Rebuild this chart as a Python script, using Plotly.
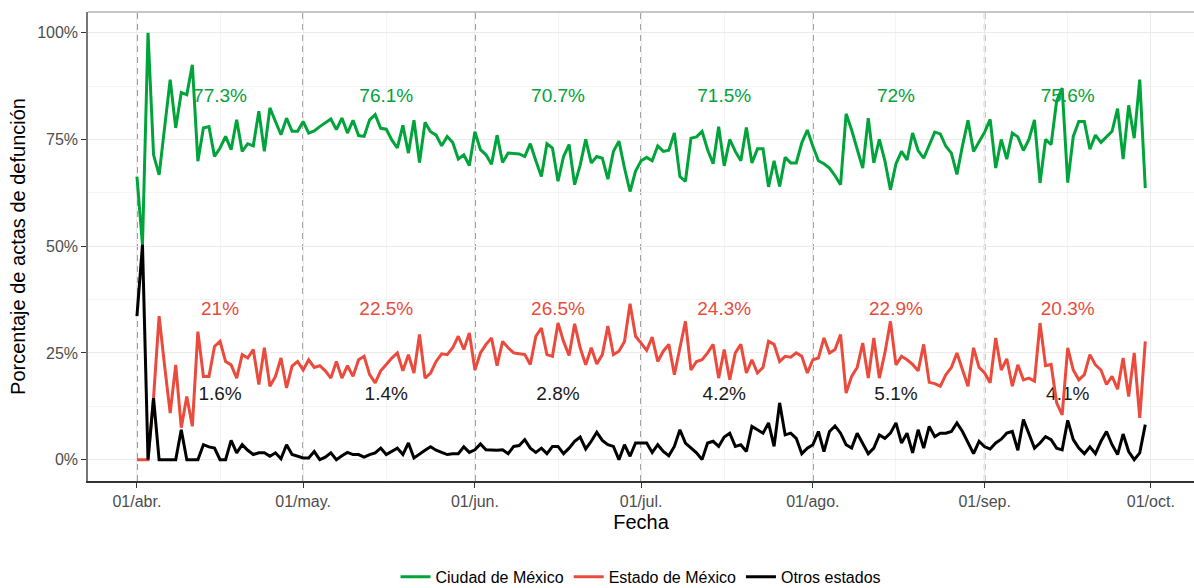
import pandas as pd
import plotly.graph_objects as go

# Daily share of death certificates by state of residence (Apr 1 - Sep 30, 2020)
dates = pd.date_range("2020-04-01", "2020-09-30", freq="D")

cdmx = [
    66.3, 50.3, 100, 71.4, 66.7, 78, 89, 77.7, 86, 85.5,
    92.5, 69.9, 77.7, 78, 71, 73, 75.7, 72.6, 79.6, 72.2,
    74, 73.5, 81.6, 72.2, 82.4, 79.2, 76.1, 80, 76.9, 76.9,
    79.2, 76.5, 77, 78, 79, 79.8, 77.3, 80, 76.5, 79.5,
    75.9, 75.7, 79.6, 80.8, 77.6, 77.4, 74.9, 73, 78.3, 71.8,
    79.5, 69.6, 79, 76.8, 76, 73.5, 75.7, 74.3, 70.4, 71.4,
    68.9, 76.8, 72.6, 71.4, 69.2, 76, 69.6, 71.8, 71.7, 71.6,
    71, 74, 70, 66.3, 74, 73, 65.2, 71, 73.8, 64.4,
    69, 75, 69.5, 71, 70.6, 65.7, 72.2, 74.6, 68.3, 62.8,
    67.6, 70, 70.8, 70, 73.5, 72.2, 72.5, 76.5, 66.3, 65.2,
    75.3, 75.6, 76.9, 72.6, 69.3, 78, 68.8, 75, 72.2, 70,
    77.8, 69.5, 72.8, 72.8, 63.9, 70, 64, 70.8, 69.5, 69.5,
    74.2, 77.2, 73.4, 70, 69.3, 68.3, 66.5, 64.4, 81, 77.2,
    72.7, 68.3, 80, 69.5, 75, 70, 63.2, 69.3, 72.2, 70.2,
    76.5, 72.4, 70.6, 73.8, 76.7, 76.3, 73.4, 71.8, 66.8, 73.5,
    79.5, 72.2, 74.6, 76.7, 79.7, 68.3, 75, 70.4, 76.5, 75.6,
    72.4, 75, 79.6, 64.8, 75, 73.8, 84, 87, 64.9, 75.7,
    79.2, 79.2, 72.7, 76, 74.3, 75.6, 76.9, 82.2, 70.4, 83,
    75.3, 89, 63.6,
]

edomex = [
    0, 0, 0, 14.5, 33.6, 21.9, 10.9, 22.2, 7.5, 14.8,
    7.8, 30, 19.5, 19.5, 26.5, 27.7, 23, 22.2, 19.1, 24.6,
    23.8, 25.8, 17.6, 26.2, 17.2, 19.5, 23.8, 16.8, 21.9, 23,
    21, 23.4, 21.6, 22, 20.8, 19.1, 23, 19.1, 22, 19.5,
    23.4, 24.2, 19.9, 18, 20.8, 22.3, 23.8, 25, 20.8, 24.6,
    20.3, 29.3, 19.1, 20.3, 23, 24.8, 24.6, 26.2, 28.9, 25.8,
    29.7, 21, 25, 27, 28.5, 22, 27.7, 26.2, 25, 24.8,
    24.6, 22.3, 28.9, 30.8, 24.6, 24.2, 32, 27.7, 24.4, 31.8,
    26.2, 22.2, 26.2, 22.4, 24.6, 31.3, 24.6, 25.4, 27.7, 36.5,
    28.9, 27.3, 25.6, 28.7, 23, 25.4, 27, 19.9, 25.8, 32.4,
    21, 23, 23.4, 25, 27, 19.1, 25.8, 18.7, 25, 27,
    20.3, 23.4, 20.3, 21.6, 27.7, 27, 23, 24.2, 24, 25,
    24.2, 20.3, 23.4, 23.8, 28.5, 25, 25.8, 29.3, 15.6, 19.5,
    21.6, 27.3, 19.1, 28.5, 19.1, 25, 32.4, 22.2, 24.2, 23.4,
    22.3, 20.8, 27, 18.1, 17.8, 17.2, 19.9, 21.6, 25, 21,
    17.2, 26.2, 21.6, 20.3, 18, 28.5, 21, 23.6, 17.2, 22.2,
    18.7, 19.1, 18.4, 32, 22, 22.3, 13.3, 10.5, 26.2, 21,
    18.7, 19.9, 24.6, 22.2, 21, 17.6, 19.5, 16.5, 23.8, 14.8,
    25, 9.8, 27.7,
]

otros = [
    33.6, 50.3, 0, 14.4, 0, 0, 0, 0, 7, 0,
    0, 0, 3.5, 3, 2.7, 0, 0, 4.5, 1.6, 3.5,
    2.2, 1.2, 1.6, 1.6, 0.8, 1.6, 0.2, 3.5, 1.2, 0.8,
    0.4, 0.4, 1.9, 0, 0.6, 1.6, 0, 0.9, 1.7, 1.2,
    1.2, 0.6, 1.2, 1.6, 2.7, 1.2, 1.9, 2.7, 1.2, 3.9,
    0.4, 1.4, 2.2, 3, 2.2, 1.7, 1.2, 1.4, 1.4, 3,
    1.7, 2.3, 3.7, 2.3, 2.2, 2.2, 2.3, 1.4, 3.1, 3.3,
    4.7, 2.7, 1.7, 2.7, 1.4, 3.1, 3.1, 1.4, 2.7, 4.3,
    5.3, 2.5, 4.3, 6.4, 4.5, 3.5, 3.1, 0, 3.5, 0.8,
    3.9, 3.9, 3.9, 1.7, 3.5, 1.9, 0.9, 3.1, 7, 3.9,
    2.7, 1.6, 0, 3.9, 4.3, 3.1, 5.3, 6.2, 3.1, 3.5,
    1.9, 7.8, 7, 6.2, 8.6, 3.1, 13.3, 5.8, 6.2, 5,
    1.4, 2.7, 3.5, 6.6, 1.9, 6.6, 7.9, 6.2, 3.5, 2.7,
    6.2, 3.9, 1.4, 2.7, 5.8, 5, 6.2, 8.6, 3.9, 6.2,
    1.6, 7, 2.7, 7.8, 5.4, 6.2, 6.2, 6.6, 8.6, 6.6,
    3.9, 1.4, 4.3, 3, 2.5, 3.9, 4.8, 6.2, 6.6, 2.2,
    9.4, 5.8, 2.7, 3.9, 5.4, 4.7, 2.7, 2.3, 9.2, 4.7,
    2.7, 1.4, 3, 1.4, 4.3, 6.6, 3.5, 1.2, 6, 1.9,
    0, 1.6, 8.2,
]

# Monthly averages shown as labels
label_dates = ["2020-04-16", "2020-05-16", "2020-06-16",
               "2020-07-16", "2020-08-16", "2020-09-16"]
cdmx_labels = ["77.3%", "76.1%", "70.7%", "71.5%", "72%", "75.6%"]
edomex_labels = ["21%", "22.5%", "26.5%", "24.3%", "22.9%", "20.3%"]
otros_labels = ["1.6%", "1.4%", "2.8%", "4.2%", "5.1%", "4.1%"]

month_starts = ["2020-04-01", "2020-05-01", "2020-06-01",
                "2020-07-01", "2020-08-01", "2020-09-01", "2020-10-01"]
month_labels = ["01/abr.", "01/may.", "01/jun.", "01/jul.",
                "01/ago.", "01/sep.", "01/oct."]
mid_months = ["2020-04-16", "2020-05-16", "2020-06-16",
              "2020-07-16", "2020-08-16", "2020-09-16"]

GREEN = "#00A43A"
RED = "#EA4B3C"
BLACK = "#000000"
FONT = "Liberation Sans, Arial, sans-serif"

fig = go.Figure()

# Labels first so the lines are drawn on top of them
for labels, y_pos, color in [(cdmx_labels, 85, GREEN),
                             (edomex_labels, 35, RED),
                             (otros_labels, 15, "#1a1a1a")]:
    fig.add_trace(go.Scatter(
        x=label_dates, y=[y_pos] * len(labels), text=labels,
        mode="text", textfont={"size": 19, "color": color, "family": FONT},
        showlegend=False, hoverinfo="skip"
    ))

for name, values, color in [("Ciudad de México", cdmx, GREEN),
                            ("Estado de México", edomex, RED),
                            ("Otros estados", otros, BLACK)]:
    fig.add_trace(go.Scatter(
        x=dates, y=values, mode="lines", name=name,
        line={"color": color, "width": 3}
    ))

shapes = []
for d in month_starts[:-1]:
    shapes.append({
        "type": "line", "xref": "x", "yref": "paper",
        "x0": d, "x1": d, "y0": 0, "y1": 1,
        "line": {"color": "#6e6e6e", "width": 1.5, "dash": "6px,5px"},
        "layer": "between"
    })
# light top border of the panel
shapes.append({
    "type": "line", "xref": "paper", "yref": "paper",
    "x0": 0, "x1": 1, "y0": 1, "y1": 1,
    "line": {"color": "#b3b3b3", "width": 1.5}
})

fig.update_layout(
    width=1194,
    height=588,
    margin={"l": 88, "r": 0, "t": 12, "b": 107},
    plot_bgcolor="white",
    paper_bgcolor="white",
    font={"family": FONT, "color": "#000000"},
    shapes=shapes,
    xaxis={
        "type": "date",
        "automargin": False,
        "range": ["2020-03-23 04:00", "2020-10-08 19:00"],
        "tickmode": "array",
        "tickvals": month_starts,
        "ticktext": month_labels,
        "tickfont": {"size": 16, "color": "#4d4d4d"},
        "ticks": "outside", "ticklen": 5, "tickcolor": "#333333",
        "showline": True, "linecolor": "#333333", "linewidth": 1.5,
        "showgrid": True, "gridcolor": "#ebebeb", "gridwidth": 1,
        "minor": {"tickvals": mid_months, "showgrid": True,
                  "gridcolor": "#f4f4f4", "gridwidth": 1},
        "zeroline": False,
        "title": {"text": "Fecha", "font": {"size": 20}, "standoff": 6},
    },
    yaxis={
        "automargin": False,
        "range": [-5, 104.85],
        "tickmode": "array",
        "tickvals": [0, 25, 50, 75, 100],
        "ticktext": ["0%", "25%", "50%", "75%", "100%"],
        "tickfont": {"size": 16, "color": "#4d4d4d"},
        "ticks": "outside", "ticklen": 5, "tickcolor": "#333333",
        "showline": True, "linecolor": "#777777", "linewidth": 1.5,
        "showgrid": True, "gridcolor": "#ebebeb", "gridwidth": 1,
        "minor": {"tickvals": [12.5, 37.5, 62.5, 87.5], "showgrid": True,
                  "gridcolor": "#f4f4f4", "gridwidth": 1},
        "zeroline": False,
        "title": {"text": "Porcentaje de actas de defunción",
                  "font": {"size": 20}, "standoff": 6},
    },
    legend={
        "orientation": "h", "x": 0.5, "xanchor": "center",
        "yref": "container", "y": 0.019, "yanchor": "middle",
        "font": {"size": 16, "color": "#000000"},
        "itemwidth": 30,
        "traceorder": "normal",
    },
)

# drop the default page margin so the figure fills the window exactly
fig.write_html(
    "out.html",
    config={"displayModeBar": False},
    post_script="document.body.style.margin='0';"
                "document.body.style.overflow='hidden';"
)
